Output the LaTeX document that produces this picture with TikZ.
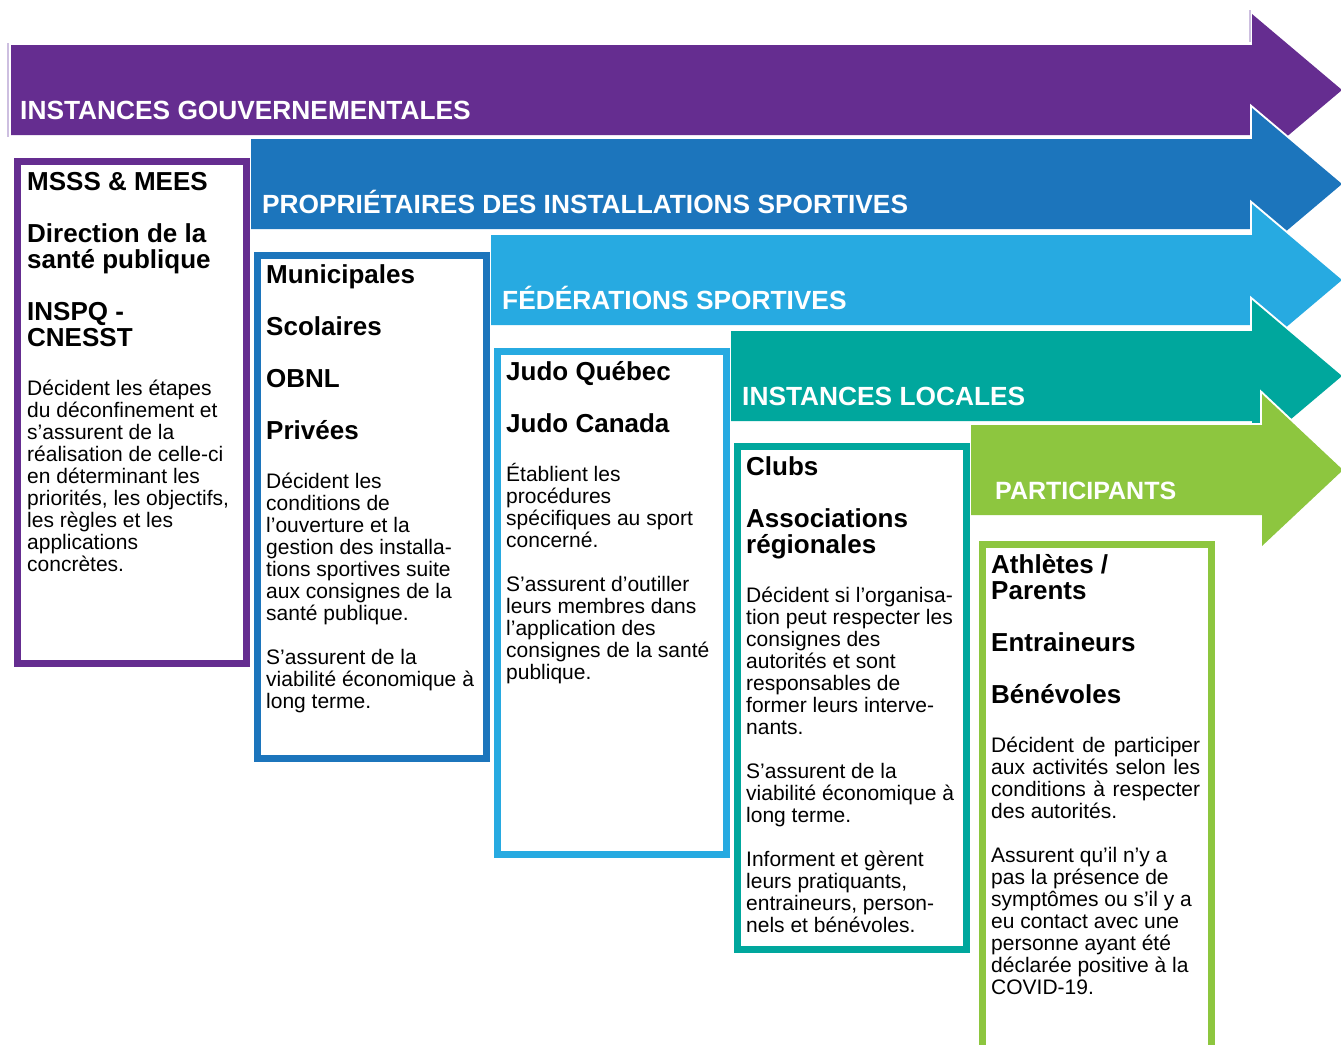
\documentclass[tikz,border=0pt]{standalone}
\usepackage{fontspec}
\setmainfont{Liberation Sans}
\setlength{\parindent}{0pt}
\setlength{\parskip}{0pt}
\definecolor{cpurple}{HTML}{652D90}
\definecolor{cblue}{HTML}{1C75BC}
\definecolor{clight}{HTML}{27AAE1}
\definecolor{cteal}{HTML}{00A79D}
\definecolor{cgreen}{HTML}{8DC63F}
\definecolor{clav}{HTML}{CDBFE0}
\newcommand\hdtext[1]{{\fontsize{26}{26}\selectfont\bfseries\spaceskip=0pt\xspaceskip=0pt #1\par}}
\newcommand\bdtext[1]{{\fontsize{21}{22}\selectfont\spaceskip=0pt\xspaceskip=0pt #1\par}}
\newcommand\hgap{\vspace{26pt}}
\newcommand\hbgap{\vspace{27pt}}
\newcommand\bgap{\vspace{22pt}}
\newcommand\firststrut{\rule{0pt}{22pt}}
\newcommand\jline[1]{\makebox[209pt][s]{#1}}
\tikzset{
  bigarrow/.style={fill=#1, preaction={draw=white, line width=4pt, line join=miter}},
  boxframe/.style={draw=#1, line width=7pt, fill=white},
  titletext/.style={anchor=base west, inner sep=0pt, text=white, font=\fontsize{26.3}{26.3}\selectfont\bfseries},
  boxtext/.style={anchor=north west, inner sep=0pt, text width=232pt, align=flush left},
  lavline/.style={draw=clav, line width=1.2pt}
}
\begin{document}
\begin{tikzpicture}[x=1pt,y=-1pt]
\useasboundingbox (0,0) rectangle (1341,1044);
\clip (0,0) rectangle (1341,1044);
\fill[white] (0,0) rectangle (1341,1044);

% arrows
\path[bigarrow=cpurple] (11,45) -- (1252,45) -- (1252,14) -- (1342,90) -- (1252,166) -- (1252,135) -- (11,135) -- cycle;
\draw[lavline] (8,43) -- (8,137);
\draw[lavline] (1250,10) -- (1250,42);
\path[bigarrow=cblue] (251,139) -- (1252,139) -- (1252,108) -- (1342,184) -- (1252,260) -- (1252,229) -- (251,229) -- cycle;
\path[bigarrow=clight] (491,235) -- (1252,235) -- (1252,204) -- (1342,280) -- (1252,356) -- (1252,325) -- (491,325) -- cycle;
\path[bigarrow=cteal] (731,331) -- (1252,331) -- (1252,300) -- (1342,376) -- (1252,452) -- (1252,421) -- (731,421) -- cycle;
\path[bigarrow=cgreen] (971,425) -- (1262,425) -- (1262,394) -- (1343,470) -- (1262,546) -- (1262,515) -- (971,515) -- cycle;

\node[titletext] (t1) at (20,119) {INSTANCES GOUVERNEMENTALES};
\node[titletext] (t2) at (262,213) {PROPRIÉTAIRES DES INSTALLATIONS SPORTIVES};
\node[titletext] (t3) at (502,309) {FÉDÉRATIONS SPORTIVES};
\node[titletext] (t4) at (742,405) {INSTANCES LOCALES};
\node[titletext, font=\fontsize{25}{25}\selectfont\bfseries] (t5) at (995,499) {PARTICIPANTS};

% boxes
\draw[boxframe=cpurple] (17.5,161.5) rectangle (246.5,663.5);
\draw[boxframe=cblue] (257.5,255.5) rectangle (486.5,758.5);
\draw[boxframe=clight] (497.5,351.5) rectangle (726.5,854.5);
\draw[boxframe=cteal] (737.5,446.5) rectangle (966.5,949.5);
\draw[boxframe=cgreen] (982.5,544.5) rectangle (1211.5,1080);

\node[boxtext] (b1) at (27,168) {%
\hdtext{\firststrut MSSS \& MEES}\hgap
\hdtext{Direction de la\\santé publique}\hgap
\hdtext{INSPQ -\\CNESST}\hbgap
\bdtext{Décident les étapes\\du déconfinement et\\s’assurent de la\\réalisation de celle-ci\\en déterminant les\\priorités, les objectifs,\\les règles et les\\applications\\concrètes.}};

\node[boxtext] (b2) at (266,261) {%
\hdtext{\firststrut Municipales}\hgap
\hdtext{Scolaires}\hgap
\hdtext{OBNL}\hgap
\hdtext{Privées}\hbgap
\bdtext{Décident les\\conditions de\\l’ouverture et la\\gestion des installa-\\tions sportives suite\\aux consignes de la\\santé publique.}\bgap
\bdtext{S’assurent de la\\viabilité économique à\\long terme.}};

\node[boxtext] (b3) at (506,358) {%
\hdtext{\firststrut Judo Québec}\hgap
\hdtext{Judo Canada}\hbgap
\bdtext{Établient les\\procédures\\spécifiques au sport\\concerné.}\bgap
\bdtext{S’assurent d’outiller\\leurs membres dans\\l’application des\\consignes de la santé\\publique.}};

\node[boxtext] (b4) at (746,453) {%
\hdtext{\firststrut Clubs}\hgap
\hdtext{Associations\\régionales}\hbgap
\bdtext{Décident si l’organisa-\\tion peut respecter les\\consignes des\\autorités et sont\\responsables de\\former leurs interve-\\nants.}\bgap
\bdtext{S’assurent de la\\viabilité économique à\\long terme.}\bgap
\bdtext{Informent et gèrent\\leurs pratiquants,\\entraineurs, person-\\nels et bénévoles.}};

\node[boxtext] (b5) at (991,551) {%
\hdtext{\firststrut Athlètes /\\Parents}\hgap
\hdtext{Entraineurs}\hgap
\hdtext{Bénévoles}\hbgap
\bdtext{\jline{Décident de participer}\\\jline{aux activités selon les}\\\jline{conditions à respecter}\\des autorités.}\bgap
\bdtext{Assurent qu’il n’y a\\pas la présence de\\symptômes ou s’il y a\\eu contact avec une\\personne ayant été\\déclarée positive à la\\COVID-19.}};
\end{tikzpicture}
\end{document}
